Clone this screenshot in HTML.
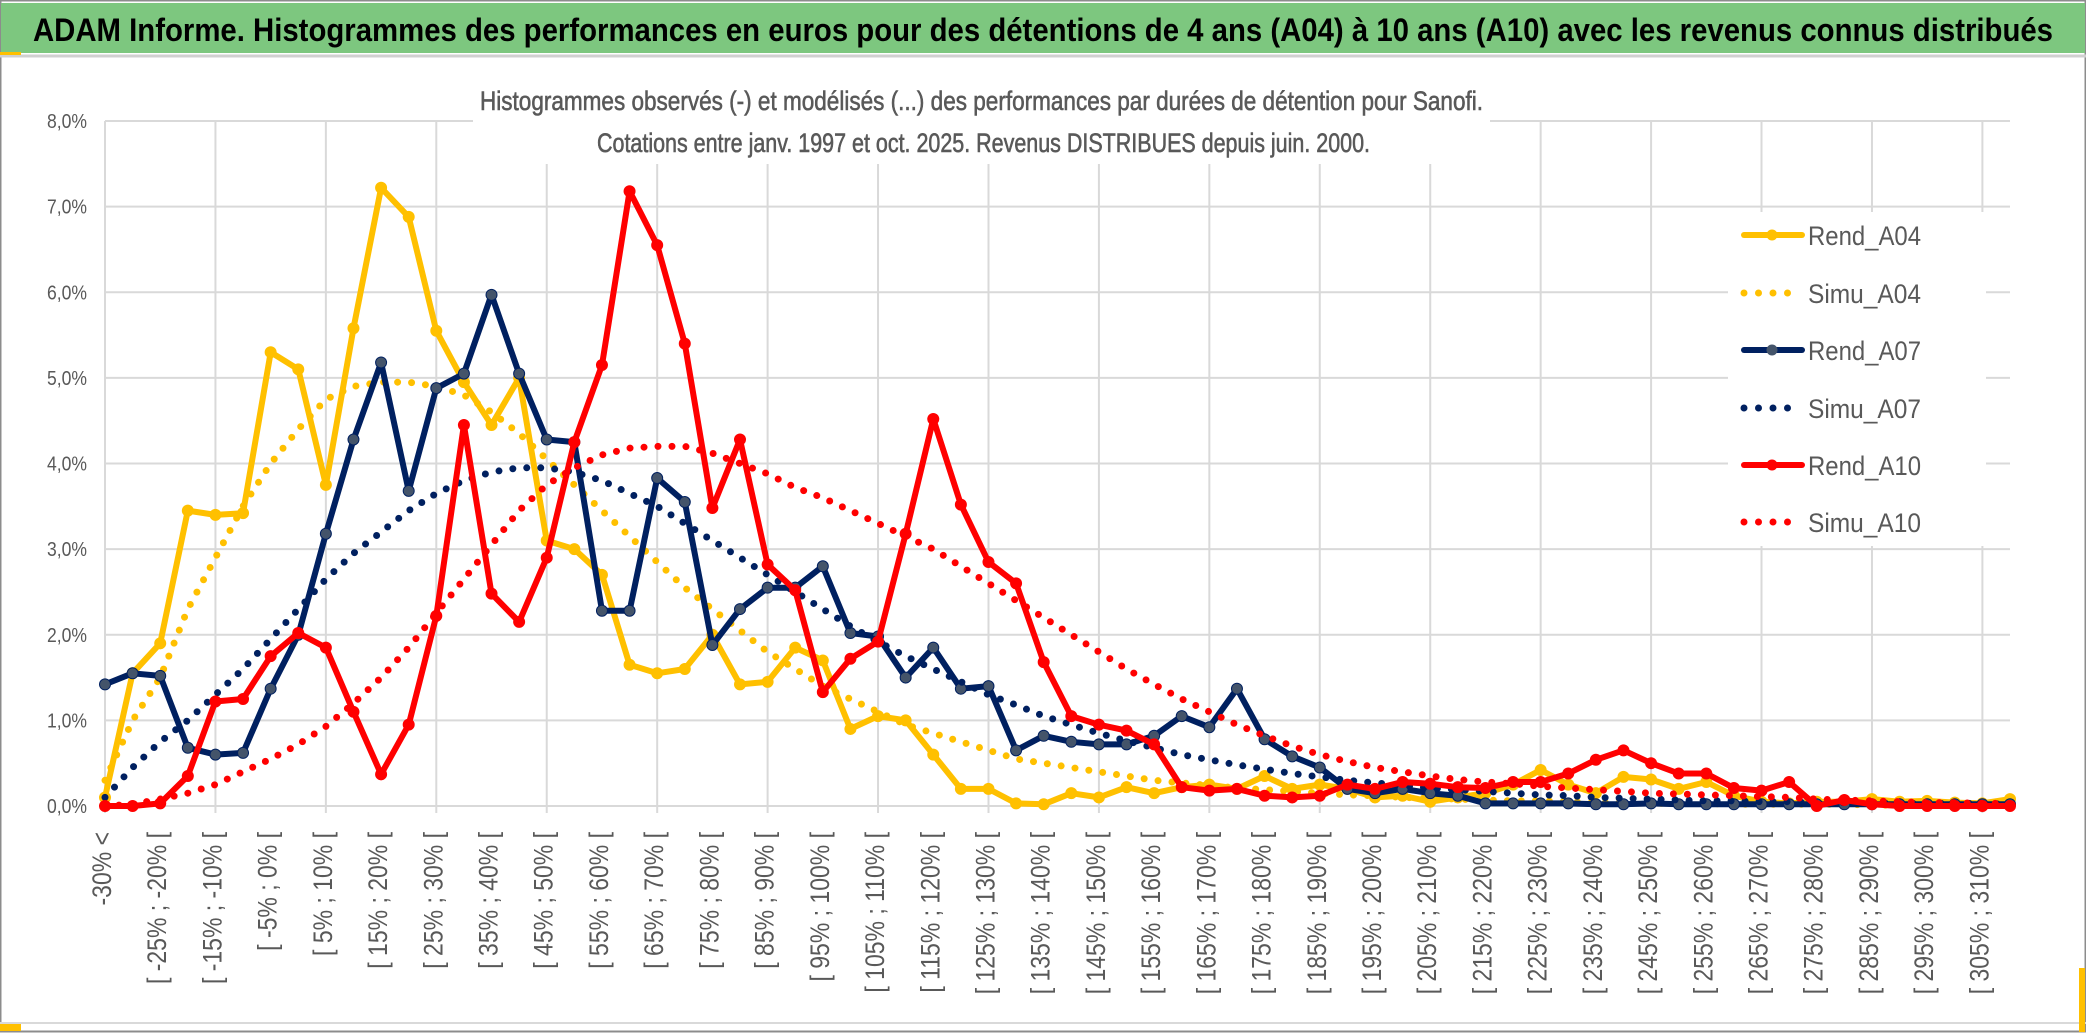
<!DOCTYPE html>
<html><head><meta charset="utf-8">
<style>
html,body{margin:0;padding:0;background:#fff;}
svg{display:block;}
text{font-family:"Liberation Sans",sans-serif;}
</style></head>
<body>
<svg id="chart" width="2086" height="1033" viewBox="0 0 2086 1033" xmlns="http://www.w3.org/2000/svg">
  <rect x="0" y="0" width="2086" height="1033" fill="#fff"/>
  <rect x="0.5" y="0.5" width="2085" height="1031" fill="none" stroke="#8c8c8c" stroke-width="2"/>
  <rect x="1" y="3" width="2084" height="50" fill="#7DC77F"/>
  <line x1="0" y1="56" x2="2086" y2="56" stroke="#d0d0d0" stroke-width="3"/>
  <rect x="0" y="52" width="21" height="3" fill="#FFC000"/>
  <line x1="0" y1="1023" x2="2086" y2="1023" stroke="#d9d9d9" stroke-width="2"/>
  <rect x="0" y="1024" width="21" height="7" fill="#FFC000"/>
  <rect x="2079" y="968" width="6" height="64" fill="#FFC000"/>
  <text x="33" y="41" font-size="32" font-weight="bold" fill="#000" textLength="2020" lengthAdjust="spacingAndGlyphs">ADAM Informe. Histogrammes des performances en euros pour des détentions de 4 ans (A04) à 10 ans (A10) avec les revenus connus distribués</text>
  <g id="grid"></g>
  <g id="yaxis"></g>
  <g id="xaxis"></g>
  <rect x="473" y="78" width="1017" height="86" fill="#fff"/>
  <text x="480" y="110" font-size="27" fill="#595959" stroke="#595959" stroke-width="0.6" textLength="1003" lengthAdjust="spacingAndGlyphs">Histogrammes observés (-) et modélisés (...) des performances par durées de détention pour Sanofi.</text>
  <text x="597" y="152" font-size="27" fill="#595959" stroke="#595959" stroke-width="0.6" textLength="773" lengthAdjust="spacingAndGlyphs">Cotations entre janv. 1997 et oct. 2025. Revenus DISTRIBUES depuis juin. 2000.</text>
  <g id="series"></g>
  <rect x="1728" y="212" width="258" height="334" fill="#fff"/>
  <g id="legend"></g>
</svg>
<script>
const categoryCount = 70;
const yTicks = [0,1,2,3,4,5,6,7,8];
const yTickLabels = ["0,0%","1,0%","2,0%","3,0%","4,0%","5,0%","6,0%","7,0%","8,0%"];
const seriesNames = ["Rend_A04","Simu_A04","Rend_A07","Simu_A07","Rend_A10","Simu_A10"];
const rendA04 = [0.1,1.55,1.9,3.45,3.4,3.42,5.3,5.1,3.75,5.58,7.22,6.88,5.55,4.95,4.45,5.0,3.1,3.0,2.7,1.65,1.55,1.6,2.0,1.42,1.45,1.85,1.7,0.9,1.05,1.0,0.6,0.2,0.2,0.03,0.02,0.15,0.1,0.22,0.15,0.22,0.25,0.2,0.35,0.2,0.25,0.2,0.1,0.12,0.05,0.1,0.15,0.25,0.42,0.25,0.15,0.34,0.31,0.2,0.28,0.12,0.05,0.03,0.05,0.05,0.08,0.05,0.06,0.04,0.03,0.08];
const simuA04 = [0.3,1.0,1.5,2.3,2.9,3.5,4.0,4.4,4.75,4.9,4.95,4.95,4.9,4.8,4.6,4.35,4.05,3.75,3.45,3.15,2.85,2.55,2.3,2.05,1.8,1.6,1.4,1.25,1.1,0.95,0.85,0.75,0.65,0.55,0.5,0.45,0.4,0.35,0.3,0.27,0.24,0.21,0.19,0.17,0.15,0.13,0.12,0.1,0.09,0.08,0.07,0.06,0.06,0.05,0.04,0.04,0.03,0.03,0.03,0.02,0.02,0.02,0.02,0.02,0.01,0.01,0.01,0.01,0.01,0.01];
const rendA07 = [1.42,1.55,1.52,0.68,0.6,0.62,1.37,2.0,3.18,4.28,5.18,3.68,4.88,5.05,5.97,5.05,4.28,4.25,2.28,2.28,3.83,3.55,1.88,2.3,2.55,2.55,2.8,2.02,1.98,1.5,1.85,1.37,1.4,0.65,0.82,0.75,0.72,0.72,0.82,1.05,0.92,1.37,0.78,0.58,0.45,0.2,0.15,0.2,0.15,0.12,0.03,0.03,0.03,0.03,0.02,0.02,0.03,0.02,0.02,0.02,0.02,0.02,0.02,0.02,0.02,0.02,0.02,0.02,0.02,0.02];
const simuA07 = [0.1,0.45,0.75,1.0,1.3,1.6,1.95,2.3,2.65,2.95,3.2,3.45,3.65,3.8,3.9,3.95,3.95,3.9,3.8,3.65,3.5,3.3,3.1,2.9,2.7,2.5,2.3,2.1,1.92,1.75,1.6,1.45,1.3,1.18,1.05,0.95,0.85,0.76,0.68,0.6,0.54,0.48,0.43,0.38,0.34,0.3,0.27,0.24,0.21,0.19,0.17,0.15,0.13,0.12,0.1,0.09,0.08,0.07,0.06,0.06,0.05,0.05,0.04,0.04,0.04,0.03,0.03,0.03,0.03,0.02];
const rendA10 = [0,0,0.03,0.35,1.22,1.25,1.75,2.02,1.85,1.1,0.37,0.95,2.22,4.45,2.48,2.15,2.9,4.25,5.15,7.18,6.55,5.4,3.48,4.28,2.82,2.52,1.33,1.72,1.92,3.18,4.52,3.52,2.85,2.6,1.68,1.05,0.95,0.88,0.72,0.22,0.18,0.2,0.12,0.1,0.12,0.25,0.2,0.28,0.26,0.22,0.21,0.28,0.28,0.38,0.54,0.65,0.5,0.38,0.38,0.21,0.18,0.28,0,0.07,0.02,0,0,0,0,0];
const simuA10 = [0,0.02,0.08,0.15,0.25,0.4,0.55,0.72,0.93,1.2,1.5,1.85,2.25,2.65,3.05,3.45,3.75,3.95,4.1,4.18,4.2,4.2,4.12,4.0,3.88,3.72,3.6,3.45,3.3,3.15,3.0,2.8,2.6,2.4,2.2,2.0,1.8,1.6,1.42,1.25,1.1,0.95,0.82,0.7,0.6,0.52,0.45,0.4,0.35,0.31,0.28,0.26,0.23,0.21,0.19,0.17,0.15,0.14,0.13,0.12,0.11,0.1,0.08,0.07,0.06,0.05,0.04,0.04,0.03,0.03];

const NS = "http://www.w3.org/2000/svg";
const X0 = 105, X1 = 2010, Y0 = 806, YMAX = 8, YTOP = 121;
function xPos(i){ return X0 + i*(X1-X0)/(categoryCount-1); }
function yPos(v){ return Y0 - v*(Y0-YTOP)/YMAX; }
function mk(tag, attrs, parent){ const e=document.createElementNS(NS,tag); for(const k in attrs) e.setAttribute(k,attrs[k]); parent.appendChild(e); return e; }

const categories = [];
for(let i=0;i<categoryCount;i++){
  if(i===0){ categories.push("-30% <"); }
  else { const a=-30+5*(i-1), b=a+5; categories.push("[ "+a+"% ; "+b+"% ["); }
}

const grid = document.getElementById("grid");
yTicks.forEach((t,k)=>{
  const l = mk("line",{x1:X0,x2:X1,y1:yPos(t),y2:yPos(t),stroke:"#d9d9d9","stroke-width":2},grid);
  
  
});
for(let i=0;i<categoryCount;i+=4){
  const l = mk("line",{x1:xPos(i),x2:xPos(i),y1:YTOP,y2:Y0+7,stroke:"#d9d9d9","stroke-width":2},grid);
  
  
}

const yaxis = document.getElementById("yaxis");
yTicks.forEach((t,k)=>{
  const tx = mk("text",{x:87,y:yPos(t)+7,"text-anchor":"end","font-size":20,fill:"#595959",textLength:40,lengthAdjust:"spacingAndGlyphs"},yaxis);
  tx.textContent = yTickLabels[k];
  
  
});

const xaxis = document.getElementById("xaxis");
for(let i=0;i<categoryCount;i+=2){
  const x = xPos(i)+6;
  const tx = mk("text",{transform:"translate("+x+",832) scale(1.18,1) rotate(-90)","text-anchor":"end","font-size":23,fill:"#595959"},xaxis);
  tx.textContent = categories[i];
  
  
}

const series = [
  {name:seriesNames[0], data:rendA04, color:"#FFC000", marker:"#FFC000", dotted:false},
  {name:seriesNames[1], data:simuA04, color:"#FFC000", dotted:true},
  {name:seriesNames[2], data:rendA07, color:"#002060", marker:"#44546A", dotted:false},
  {name:seriesNames[3], data:simuA07, color:"#002060", dotted:true},
  {name:seriesNames[4], data:rendA10, color:"#FF0000", marker:"#FF0000", dotted:false},
  {name:seriesNames[5], data:simuA10, color:"#FF0000", dotted:true}
];
const sg = document.getElementById("series");
series.forEach(s=>{
  const g = mk("g",{},sg);
  
  
  const pts = s.data.map((v,i)=>xPos(i).toFixed(1)+","+yPos(v).toFixed(1)).join(" ");
  const attrs = {points:pts,fill:"none",stroke:s.color,"stroke-width":s.dotted?7:6,"stroke-linejoin":"round","stroke-linecap":"round"};
  if(s.dotted){ attrs["stroke-dasharray"]="0 14"; }
  const pl = mk("polyline",attrs,g);
  
  
  if(!s.dotted){
    s.data.forEach((v,i)=>{
      const c = mk("circle",{cx:xPos(i),cy:yPos(v),r:5.5,fill:s.marker,stroke:s.color,"stroke-width":1},g);
      
      
    });
  }
});

const lg = document.getElementById("legend");
const legendY = [235,293,350,408,465,522];
series.forEach((s,k)=>{
  const g = mk("g",{},lg);
  
  
  const y = legendY[k];
  const a = {x1:1744,x2:1802,y1:y,y2:y,stroke:s.color,"stroke-width":6,"stroke-linecap":"round"};
  if(s.dotted){ a["stroke-dasharray"]="0 14.5"; a.x2 = 1790; a["stroke-width"]=7; }
  const l = mk("line",a,g);
  
  
  if(!s.dotted){
    const c = mk("circle",{cx:1772,cy:y,r:5.5,fill:s.marker},g);
    
    
  }
  const t = mk("text",{x:1808,y:y+10,"font-size":27,fill:"#595959",textLength:113,lengthAdjust:"spacingAndGlyphs"},g);
  t.textContent = s.name;
  
  
});
</script>
</body></html>
